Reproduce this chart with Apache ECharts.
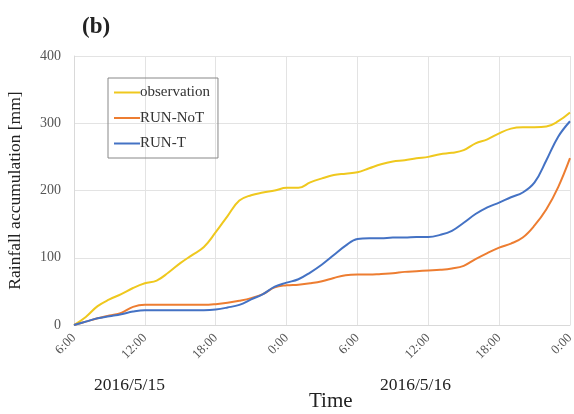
<!DOCTYPE html>
<html>
<head>
<meta charset="utf-8">
<script src="https://cdn.jsdelivr.net/npm/echarts@6/dist/echarts.min.js"></script>
<style>html,body{margin:0;padding:0;background:#fff;}#c{width:574px;height:414px;}</style>
</head>
<body>
<div id="c"></div>
<script>
// hours since 2016/5/15 6:00 (hourly)
const tickLabels = ['6:00','12:00','18:00','0:00','6:00','12:00','18:00','0:00'];
const dateLabels = ['2016/5/15','2016/5/16'];
const observation = [0,12,28,38,46,55,62,66,78,92,104,116,138,162,185,193,197,200,204,204,212,218,223,225,227,233,239,243,245,248,250,254,256,260,270,276,285,292,294,294,295,303,316];
const runNoT = [0,5,10,14,18,27,30,30,30,30,30,30,31,33,36,40,46,56,59,60,62,65,70,74,75,75,76,77,79,80,81,82,84,88,98,107,115,121,130,148,172,205,248];
const runT = [0,5,10,13,16,20,22,22,22,22,22,22,23,26,30,38,46,57,63,68,78,90,104,118,128,129,129,130,130,131,131,134,140,152,165,175,182,190,197,212,245,280,303];

const toPairs = arr => arr.map((v, i) => [i, v]);
const serif = 'Liberation Serif';
const chart = echarts.init(document.getElementById('c'));
const mk = (name, data, color) => ({
  name, type: 'line', data: toPairs(data), smooth: 0.4, showSymbol: false,
  lineStyle: {color, width: 2}, itemStyle: {color}
});
chart.setOption({
  animation: false,
  backgroundColor: '#fff',
  title: {text: '(b)', left: 77, top: 11, textStyle: {fontFamily: serif, fontWeight: 'bold', fontSize: 23, color: '#222'}},
  legend: {
    orient: 'vertical', left: 108, top: 78, padding: [7, 8, 7, 6], itemGap: 10.5,
    itemWidth: 26, itemHeight: 14, borderColor: '#888', borderWidth: 1,
    icon: 'path://M0,6L26,6L26,8L0,8Z',
    textStyle: {fontFamily: serif, fontSize: 15, color: '#333', padding: [0, 0, 0, -5]},
    data: ['observation', 'RUN-NoT', 'RUN-T']
  },
  grid: {left: 74, right: 4, top: 56, bottom: 89, containLabel: false, outerBoundsMode: 'none'},
  xAxis: {
    type: 'value', min: 0, max: 42, interval: 6,
    axisLine: {show: true, lineStyle: {color: '#d9d9d9'}},
    axisTick: {show: false},
    splitLine: {show: true, lineStyle: {color: '#e3e3e3'}},
    axisLabel: {
      rotate: 45, margin: 11, fontFamily: serif, fontSize: 13, color: '#555',
      formatter: v => tickLabels[Math.round(v / 6)]
    }
  },
  yAxis: {
    type: 'value', min: 0, max: 400, interval: 100,
    name: 'Rainfall accumulation [mm]', nameLocation: 'middle', nameGap: 50,
    nameTextStyle: {fontFamily: serif, fontSize: 17.5, color: '#222'},
    axisLine: {show: true, lineStyle: {color: '#d9d9d9'}},
    axisTick: {show: false},
    splitLine: {lineStyle: {color: '#e3e3e3'}},
    axisLabel: {fontFamily: serif, fontSize: 14, color: '#555', margin: 13}
  },
  graphic: [
    {type: 'text', left: 94, top: 376, style: {text: dateLabels[0], font: '17.5px "Liberation Serif"', fill: '#222'}},
    {type: 'text', left: 380, top: 376, style: {text: dateLabels[1], font: '17.5px "Liberation Serif"', fill: '#222'}},
    {type: 'text', left: 309, top: 391, style: {text: 'Time', font: '21px "Liberation Serif"', fill: '#222'}}
  ],
  series: [
    mk('observation', observation, '#EFC81E'),
    mk('RUN-NoT', runNoT, '#ED7D31'),
    mk('RUN-T', runT, '#4472C4')
  ]
});
</script>
</body>
</html>
